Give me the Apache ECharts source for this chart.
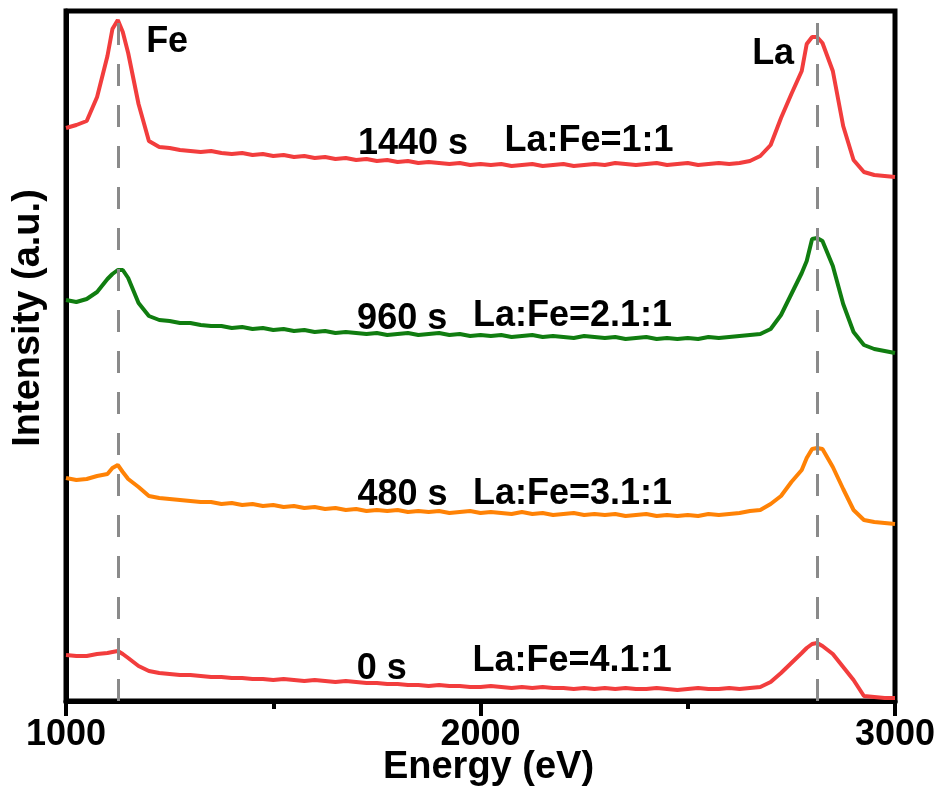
<!DOCTYPE html>
<html>
<head>
<meta charset="utf-8">
<script src="https://cdn.jsdelivr.net/npm/echarts@6/dist/echarts.min.js"></script>
<style>html,body{margin:0;padding:0;background:#fff}#c{width:942px;height:791px}</style>
</head>
<body>
<div id="c"></div>
<script>
// Energy grid (eV)
const energy = [
  1000,1025,1050,1075,1100,1112,1125,1137,1150,1175,
  1200,1225,1250,1275,1300,1325,1350,1375,1400,1425,
  1450,1475,1500,1525,1550,1575,1600,1625,1650,1675,
  1700,1725,1750,1775,1800,1825,1850,1875,1900,1925,
  1950,1975,2000,2025,2050,2075,2100,2125,2150,2175,
  2200,2225,2250,2275,2300,2325,2350,2375,2400,2425,
  2450,2475,2500,2525,2550,2575,2600,2625,2650,2675,
  2700,2725,2750,2775,2787,2800,2812,2825,2850,2875,
  2900,2925,2950,2975,3000
];
// Intensities (a.u., vertically offset as in the figure)
const s1440 = [
  573,576,580,604,645,672,681,669,648,597,
  560,554,553,551,550,549,550,548,547,548,
  546,547,545,546,544,545,543,544,542,543,
  541,542,540,541,539,540,538,539,538,537,
  538,536,537,536,537,535,536,537,535,536,
  537,535,536,537,536,538,537,536,537,538,
  536,537,538,536,537,538,537,538,540,545,
  556,583,607,630,657,664,664,658,630,575,
  541,529,526,525,524
];
const s960 = [
  401,399,402,409,422,427,431,431,423,398,
  385,381,380,378,378,376,375,375,373,374,
  372,373,371,372,370,371,369,370,368,369,
  368,367,368,366,367,368,366,367,368,366,
  367,365,366,365,366,364,365,366,364,365,
  364,363,365,364,363,364,362,363,364,362,
  363,362,363,362,364,363,364,365,366,367,
  372,386,407,428,440,462,463,460,435,397,
  369,356,352,350,348
];
const s480 = [
  223,221,222,225,227,233,236,229,222,214,
  205,203,202,201,200,199,199,197,198,196,
  197,195,196,194,195,193,194,192,193,191,
  192,190,191,190,191,189,190,189,190,188,
  189,190,188,189,188,187,189,187,188,186,
  187,188,186,187,186,187,185,186,187,185,
  186,185,186,185,187,186,187,188,190,191,
  197,205,219,231,243,252,253,252,234,212,
  191,181,179,178,177
];
const s0 = [
  46,45,45,47,48,49,50,47,43,35,
  30,28,27,26,26,25,24,24,23,23,
  22,22,21,22,21,20,21,20,19,20,
  19,18,18,17,17,16,16,15,16,15,
  15,14,14,15,14,13,14,13,14,13,
  13,12,13,12,13,12,13,12,12,13,
  12,11,12,13,12,12,13,12,13,14,
  19,28,38,48,53,57,58,55,47,34,
  21,5,4,3,3
];
const seriesNames = ['1440 s','960 s','480 s','0 s'];
const seriesColors = ['#f23d3d','#107d10','#ff8205','#f23d3d'];
const peakLines = [1125, 2812];
const xTicks = [1000, 2000, 3000];
// annotations: [text, energy, intensity]
const annotations = [
  ['Fe', 1244, 659],
  ['La', 2706, 647],
  ['1440 s', 1837, 557],
  ['La:Fe=1:1', 2262, 560],
  ['960 s', 1811, 382],
  ['La:Fe=2.1:1', 2222, 385],
  ['480 s', 1812, 206],
  ['La:Fe=3.1:1', 2222, 207],
  ['0 s', 1762, 32],
  ['La:Fe=4.1:1', 2221, 40]
];

const FONT = 'Liberation Sans, Arial, sans-serif';
const allData = [s1440, s960, s480, s0];
const chart = echarts.init(document.getElementById('c'), null, {renderer: 'canvas'});

const series = allData.map((vals, i) => ({
  type: 'line',
  name: seriesNames[i],
  data: energy.map((e, k) => [e, vals[k]]),
  showSymbol: false,
  symbol: 'none',
  lineStyle: {color: seriesColors[i], width: 4},
  itemStyle: {color: seriesColors[i]},
  z: 2,
  silent: true
}));

series.push({
  type: 'line',
  data: [],
  z: 5,
  silent: true,
  markLine: {
    silent: true,
    symbol: ['none', 'none'],
    label: {show: false},
    lineStyle: {color: '#8a8a8a', width: 3, type: [22, 19]},
    data: peakLines.map(v => ({xAxis: v}))
  },
  markPoint: {
    silent: true,
    symbol: 'rect',
    symbolSize: 0,
    label: {
      show: true,
      position: 'inside',
      color: '#000',
      fontFamily: FONT,
      fontWeight: 'bold',
      fontSize: 36
    },
    data: annotations.map(a => ({coord: [a[1], a[2]], value: a[0], label: {formatter: a[0]}}))
  }
});

chart.setOption({
  animation: false,
  backgroundColor: '#fff',
  grid: {left: 66, right: 47, top: 11, bottom: 90, containLabel: false, outerBoundsMode: 'none', show: true, borderColor: '#000', borderWidth: 5, backgroundColor: 'transparent'},
  xAxis: {
    type: 'value',
    min: xTicks[0],
    max: xTicks[xTicks.length - 1],
    interval: 1000,
    name: 'Energy (eV)',
    nameLocation: 'middle',
    nameGap: 48,
    nameMoveOverlap: false,
    nameTextStyle: {color: '#000', fontFamily: FONT, fontWeight: 'bold', fontSize: 38, padding: [0, 0, 0, 16]},
    axisLine: {show: true, onZero: false, lineStyle: {color: '#000', width: 5}},
    axisTick: {show: true, inside: false, length: 15, lineStyle: {color: '#000', width: 4}},
    minorTick: {show: true, splitNumber: 2, length: 8, lineStyle: {color: '#000', width: 4}},
    axisLabel: {color: '#000', fontFamily: FONT, fontWeight: 'bold', fontSize: 36, margin: 16, formatter: v => String(v)},
    splitLine: {show: false}
  },
  yAxis: {
    type: 'value',
    min: 0,
    max: 690,
    name: 'Intensity (a.u.)',
    nameLocation: 'middle',
    nameGap: 18,
    nameMoveOverlap: false,
    nameRotate: 90,
    nameTextStyle: {color: '#000', fontFamily: FONT, fontWeight: 'bold', fontSize: 38, padding: [0, 0, 0, 76]},
    axisLine: {show: true, lineStyle: {color: '#000', width: 5}},
    axisTick: {show: false},
    axisLabel: {show: false},
    splitLine: {show: false}
  },
  series: series
});
</script>
</body>
</html>
